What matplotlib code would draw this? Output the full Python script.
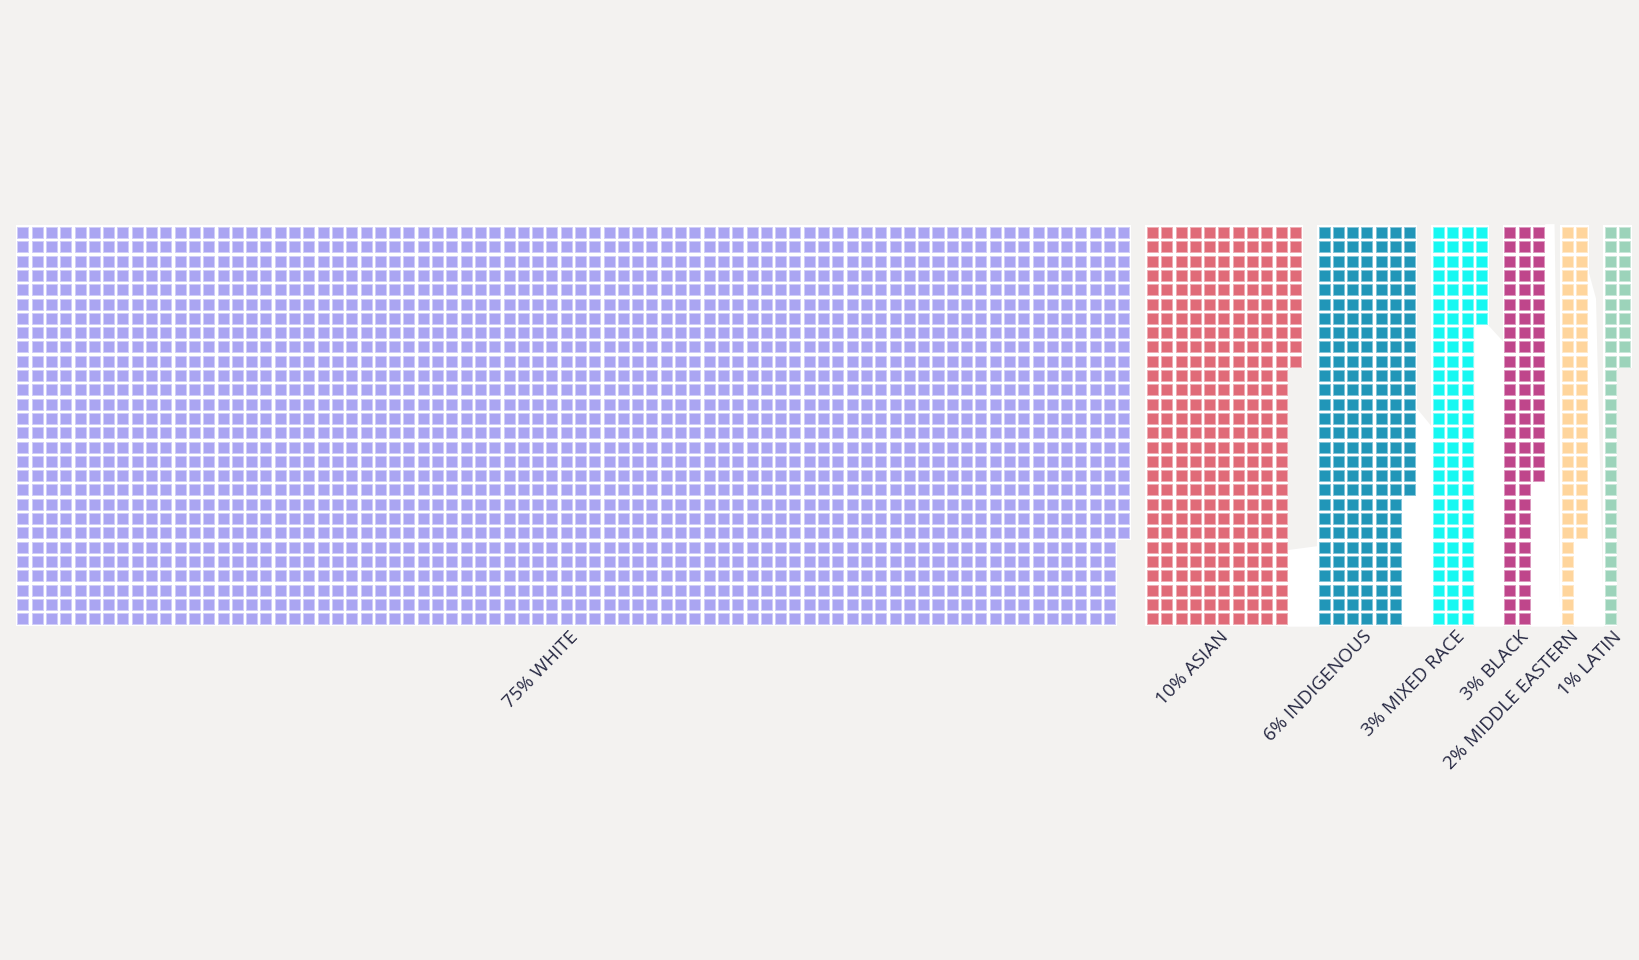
import matplotlib
matplotlib.use("Agg")
import matplotlib.pyplot as plt
from matplotlib.patches import Rectangle, Polygon

# ---- data (squares per group) ----
groups = ["WHITE", "ASIAN", "INDIGENOUS", "MIXED RACE", "BLACK", "MIDDLE EASTERN", "LATIN"]
percents = [75, 10, 6, 3, 3, 2, 1]
squares = [2178, 290, 187, 91, 74, 50, 38]
colors = ["#aaa5f2", "#e06b78", "#2196b8", "#16f8f2", "#bf468b", "#ffd59c", "#9cd3ba"]

ROWS = 28
BG = "#f3f2f0"
TEXT = "#262842"

fig = plt.figure(figsize=(16.4, 9.6), dpi=100, facecolor=BG)
ax = fig.add_axes([0, 0, 1, 1])
ax.set_facecolor(BG)
pitch_px = 14.3
x0_px, y0_px = 17.3, 227.0
xmin = -x0_px / pitch_px
ymin = -y0_px / pitch_px
ax.set_xlim(xmin, xmin + 1640 / pitch_px)
ax.set_ylim(ymin + 960 / pitch_px, ymin)
ax.axis("off")

sq = 11.0 / pitch_px
pad = (1 - sq) / 2

# white background smudges seen behind the small groups (decorative, grid units)
smudges = [
    [(88.8, 22.6), (91.05, 22.3), (91.05, 27.95), (88.8, 27.95)],
    [(97.8, 12.6), (98.95, 14.0), (98.95, 27.95), (96.9, 27.95), (96.9, 18.8), (97.8, 18.8)],
    [(101.9, 6.8), (102.8, 6.8), (103.9, 8.0), (103.9, 27.95), (101.9, 27.95)],
    [(106.85, -0.2), (107.5, -0.2), (107.9, 27.95), (105.85, 27.95), (105.85, 17.8), (106.85, 17.8)],
    [(109.85, 3.0), (110.4, 5.0), (110.95, 27.95), (108.85, 27.95), (108.85, 21.8), (109.85, 21.8)],
]
for pts in smudges:
    ax.add_patch(Polygon(pts, closed=True, facecolor="white", edgecolor="none", zorder=1))


def lighten(c, f=0.45):
    r, g, b = matplotlib.colors.to_rgb(c)
    return (r + (1 - r) * f, g + (1 - g) * f, b + (1 - b) * f)


col_start = 0
for name, pct, n, color in zip(groups, percents, squares, colors):
    ncols = -(-n // ROWS)
    for i in range(n):
        c = col_start + i // ROWS
        r = i % ROWS
        ax.add_patch(Rectangle((c - pad, r - pad), 1, 1, facecolor="white",
                               edgecolor="none", zorder=2))
    for i in range(n):
        c = col_start + i // ROWS
        r = i % ROWS
        ax.add_patch(Rectangle((c, r), sq, sq, facecolor=color,
                               edgecolor=lighten(color), linewidth=0.7, zorder=3))
    center = col_start + (ncols - 1 + sq) / 2
    ax.text(center + 0.1, ROWS + 0.45, f"{pct}% {name}", rotation=46,
            rotation_mode="anchor", ha="right", va="center",
            fontsize=13.5, color=TEXT, family=["Open Sans", "DejaVu Sans"], zorder=4)
    col_start += ncols + 1

fig.savefig("out.png", dpi=100, facecolor=BG)
